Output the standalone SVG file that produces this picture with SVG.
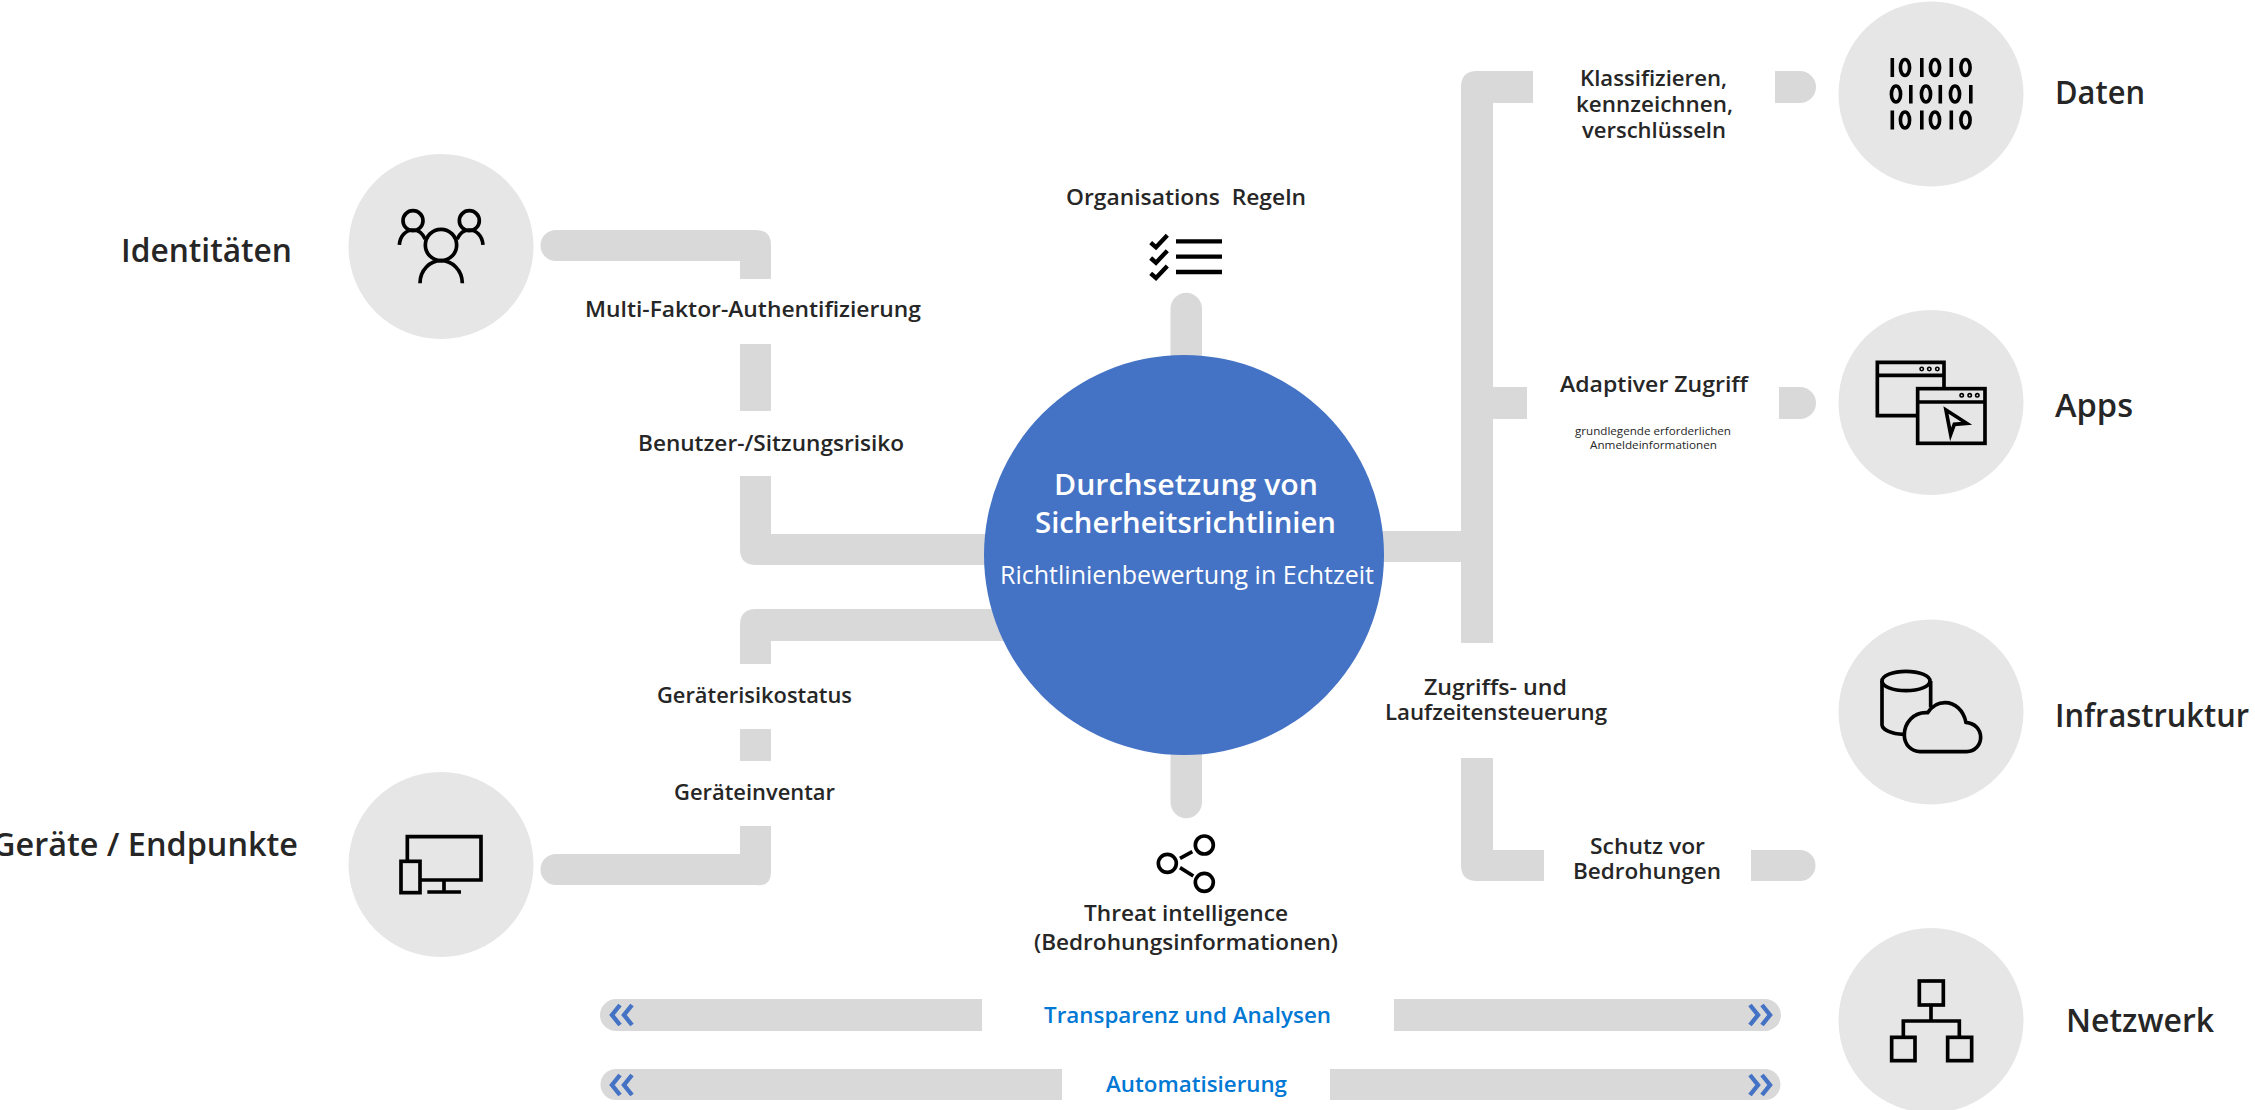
<svg xmlns="http://www.w3.org/2000/svg" width="2255" height="1110" viewBox="0 0 2255 1110">
<style>
text{font-family:"Open Sans","Noto Sans","Liberation Sans",sans-serif;white-space:pre}
.pipe{fill:#d9d9d9}
.disc{fill:#e6e6e6}
.ic{fill:none;stroke:#000;stroke-width:11}
.big{font-size:32px;font-weight:600;fill:#262626}
.lb{font-size:22px;font-weight:600;fill:#262626}
.sm{font-size:11.5px;fill:#262626}
.blue{font-size:22px;font-weight:600;fill:#0078d4}
.chev{fill:none;stroke:#4472c4;stroke-width:4.4}
.wh{fill:#fff}
</style>
<rect width="2255" height="1110" fill="#fff"/>
<g id="connectors">
<path class="pipe" d="M556,230H756Q771,230 771,245V279H740V261H556A15.5,15.5 0 0 1 556,230Z"/>
<rect class="pipe" x="740" y="344" width="31" height="67"/>
<path class="pipe" d="M740,476H771V534H1010V565H756Q740,565 740,549Z"/>
<path class="pipe" d="M1010,609H756Q740,609 740,625V664H771V641H1010Z"/>
<rect class="pipe" x="740" y="729" width="31" height="32"/>
<path class="pipe" d="M556,854H740V826H771V872Q771,887 756,885H556A15.5,15.5 0 0 1 556,854Z"/>
<path class="pipe" d="M1170.5,400V309A15.5,16 0 0 1 1202,309V400Z"/>
<path class="pipe" d="M1170.5,700H1202V802A15.5,16 0 0 1 1170.5,802Z"/>
<path class="pipe" d="M1360,531H1461V87Q1461,71 1477,71H1533V103H1493V387H1527V419H1493V643H1461V562H1360Z"/>
<path class="pipe" d="M1775,71H1800A16,16 0 0 1 1800,103H1775Z"/>
<path class="pipe" d="M1779,387H1800A16,16 0 0 1 1800,419H1779Z"/>
<path class="pipe" d="M1461,758H1493V850H1544V881H1477Q1461,881 1461,865Z"/>
<path class="pipe" d="M1751,850H1800A15.5,15.5 0 0 1 1800,881H1751Z"/>
<path class="pipe" d="M616,999H982V1031H616A16,16 0 0 1 616,999Z"/>
<path class="pipe" d="M1394,999H1765A16,16 0 0 1 1765,1031H1394Z"/>
<path class="pipe" d="M616,1069H1062V1100H616A15.5,15.5 0 0 1 616,1069Z"/>
<path class="pipe" d="M1330,1069H1765A15.5,15.5 0 0 1 1765,1100H1330Z"/>
</g>
<g id="center">
<circle cx="1184" cy="555" r="200" fill="#4472c4"/>
<text class="wh" x="1054" y="495" font-size="28" font-weight="600" textLength="264" lengthAdjust="spacingAndGlyphs">Durchsetzung von</text>
<text class="wh" x="1035" y="533" font-size="28" font-weight="600" textLength="301" lengthAdjust="spacingAndGlyphs">Sicherheitsrichtlinien</text>
<text class="wh" x="1000" y="584" font-size="25" textLength="374" lengthAdjust="spacingAndGlyphs">Richtlinienbewertung in Echtzeit</text>
</g>
<g id="identities">
<circle class="disc" cx="441" cy="246.5" r="92.5"/>
<g class="ic" transform="translate(380,190) scale(.3333)">
<circle cx="99" cy="92" r="30"/><circle cx="268" cy="92" r="30"/><circle cx="183" cy="165" r="47"/>
<path d="M58,165C60,135 80,120 99,120C115,120 128,130 136,148"/>
<path d="M309,165C307,135 287,120 268,120C252,120 239,130 231,148"/>
<path d="M120,280C120,240 150,212 183,212C216,212 247,240 247,280"/>
</g>
<text class="big" x="121" y="262" textLength="171" lengthAdjust="spacingAndGlyphs">Identitäten</text>
</g>
<g id="devices">
<circle class="disc" cx="441" cy="864.5" r="92.5"/>
<g class="ic" transform="translate(380,820) scale(.3333)">
<path d="M82,125V50H303V180H122"/>
<rect x="63" y="124" width="57" height="94"/>
<path d="M192,180V216M142,216H243"/>
</g>
<text class="big" x="-8" y="856" textLength="306" lengthAdjust="spacingAndGlyphs">Geräte / Endpunkte</text>
</g>
<g id="labels-left">
<text class="lb" x="585" y="317" textLength="336" lengthAdjust="spacingAndGlyphs">Multi-Faktor-Authentifizierung</text>
<text class="lb" x="638" y="451" textLength="266" lengthAdjust="spacingAndGlyphs">Benutzer-/Sitzungsrisiko</text>
<text class="lb" x="657" y="703" textLength="195" lengthAdjust="spacingAndGlyphs">Geräterisikostatus</text>
<text class="lb" x="674" y="800" textLength="161" lengthAdjust="spacingAndGlyphs">Geräteinventar</text>
</g>
<g id="rules">
<text class="lb" x="1066" y="205" textLength="240" lengthAdjust="spacingAndGlyphs">Organisations  Regeln</text>
<g class="ic" transform="translate(1120,220) scale(.3333)" style="stroke-width:13">
<path d="M168,64H306M168,110H306M168,156H306"/>
<path d="M92,68L108,82L142,46M92,114L108,128L142,92M92,160L108,174L142,138"/>
</g>
</g>
<g id="threat">
<g class="ic" transform="translate(1140,825) scale(.3333)">
<circle cx="82" cy="115" r="27"/><circle cx="193" cy="60" r="27"/><circle cx="193" cy="172" r="27"/>
<path d="M120,100L157,80M120,128L160,153"/>
</g>
<text class="lb" x="1084" y="921" textLength="204" lengthAdjust="spacingAndGlyphs">Threat intelligence</text>
<text class="lb" x="1034" y="950" textLength="304" lengthAdjust="spacingAndGlyphs">(Bedrohungsinformationen)</text>
</g>
<g id="data">
<circle class="disc" cx="1931" cy="94" r="92.5"/>
<g fill="#000" stroke="none">
<rect x="1890.5" y="58" width="3.6" height="19"/><rect x="1920" y="58" width="3.6" height="19"/><rect x="1949.5" y="58" width="3.6" height="19"/>
<rect x="1909" y="85" width="3.6" height="18.5"/><rect x="1938.5" y="85" width="3.6" height="18.5"/><rect x="1969" y="85" width="3.6" height="18.5"/>
<rect x="1890.5" y="110.5" width="3.6" height="19"/><rect x="1920" y="110.5" width="3.6" height="19"/><rect x="1949.5" y="110.5" width="3.6" height="19"/>
</g>
<g fill="none" stroke="#000" stroke-width="3.6">
<ellipse cx="1905" cy="67.5" rx="4.6" ry="8"/><ellipse cx="1935" cy="67.5" rx="4.6" ry="8"/><ellipse cx="1965.5" cy="67.5" rx="4.6" ry="8"/>
<ellipse cx="1896" cy="94" rx="4.6" ry="8"/><ellipse cx="1926" cy="94" rx="4.6" ry="8"/><ellipse cx="1955" cy="94" rx="4.6" ry="8"/>
<ellipse cx="1905" cy="120" rx="4.6" ry="8"/><ellipse cx="1935" cy="120" rx="4.6" ry="8"/><ellipse cx="1965.5" cy="120" rx="4.6" ry="8"/>
</g>
<text class="big" x="2055" y="104" textLength="90" lengthAdjust="spacingAndGlyphs">Daten</text>
<text class="lb" x="1580" y="86" textLength="147" lengthAdjust="spacingAndGlyphs">Klassifizieren,</text>
<text class="lb" x="1576" y="112" textLength="157" lengthAdjust="spacingAndGlyphs">kennzeichnen,</text>
<text class="lb" x="1582" y="138" textLength="144" lengthAdjust="spacingAndGlyphs">verschlüsseln</text>
</g>
<g id="apps">
<circle class="disc" cx="1931" cy="402.5" r="92.5"/>
<g class="ic" transform="translate(1860,340) scale(.3333)">
<path d="M173,227H52V67H252V146M52,106H252"/>
<rect x="173" y="146" width="202" height="164"/>
<path d="M173,186H375"/>
<path d="M258,210L320,250L283,253L272,283Z"/>
</g>
<g fill="none" stroke="#000" stroke-width="1.6">
<circle cx="1921.7" cy="369" r="1.7"/><circle cx="1929.3" cy="369" r="1.7"/><circle cx="1937.3" cy="369" r="1.7"/>
<circle cx="1961.7" cy="395.3" r="1.7"/><circle cx="1969.7" cy="395.3" r="1.7"/><circle cx="1977.3" cy="395.3" r="1.7"/>
</g>
<text class="big" x="2055" y="417" textLength="78" lengthAdjust="spacingAndGlyphs">Apps</text>
<text class="lb" x="1560" y="392" textLength="188" lengthAdjust="spacingAndGlyphs">Adaptiver Zugriff</text>
<text class="sm" x="1575" y="435" textLength="156" lengthAdjust="spacingAndGlyphs">grundlegende erforderlichen</text>
<text class="sm" x="1590" y="449" textLength="127" lengthAdjust="spacingAndGlyphs">Anmeldeinformationen</text>
</g>
<g id="infrastructure">
<circle class="disc" cx="1931" cy="712" r="92.5"/>
<g class="ic" transform="translate(1860,650) scale(.3333)">
<ellipse cx="138" cy="93" rx="72" ry="29"/>
<path d="M66,93V225C68,240 95,252 130,253M212,93V172"/>
<path d="M180,305H320C345,305 362,285 362,262C362,238 345,220 318,217C310,180 285,158 255,158C232,158 215,170 203,188C160,185 133,220 133,255C133,285 155,305 180,305Z"/>
</g>
<text class="big" x="2055" y="727" textLength="194" lengthAdjust="spacingAndGlyphs">Infrastruktur</text>
<text class="lb" x="1424" y="695" textLength="143" lengthAdjust="spacingAndGlyphs">Zugriffs- und</text>
<text class="lb" x="1385" y="720" textLength="222" lengthAdjust="spacingAndGlyphs">Laufzeitensteuerung</text>
<text class="lb" x="1590" y="853.5" textLength="115" lengthAdjust="spacingAndGlyphs">Schutz vor</text>
<text class="lb" x="1573" y="879" textLength="148" lengthAdjust="spacingAndGlyphs">Bedrohungen</text>
</g>
<g id="network">
<circle class="disc" cx="1931" cy="1020.5" r="92.5"/>
<g class="ic" transform="translate(1860,960) scale(.3333)">
<rect x="178" y="63" width="72" height="72"/>
<rect x="95" y="232" width="70" height="70"/>
<rect x="263" y="232" width="72" height="70"/>
<path d="M213,135V183M130,232V183H298V232"/>
</g>
<text class="big" x="2066" y="1032" textLength="148" lengthAdjust="spacingAndGlyphs">Netzwerk</text>
</g>
<g id="bars">
<text class="blue" x="1044" y="1022.5" textLength="287" lengthAdjust="spacingAndGlyphs">Transparenz und Analysen</text>
<text class="blue" x="1106" y="1092" textLength="181" lengthAdjust="spacingAndGlyphs">Automatisierung</text>
<path class="chev" d="M620,1005L612,1015L620,1025M632,1005L624,1015L632,1025"/>
<path class="chev" d="M620,1075L612,1085L620,1095M632,1075L624,1085L632,1095"/>
<path class="chev" d="M1750,1005L1758,1015L1750,1025M1762,1005L1770,1015L1762,1025"/>
<path class="chev" d="M1750,1075L1758,1085L1750,1095M1762,1075L1770,1085L1762,1095"/>
</g>
</svg>
